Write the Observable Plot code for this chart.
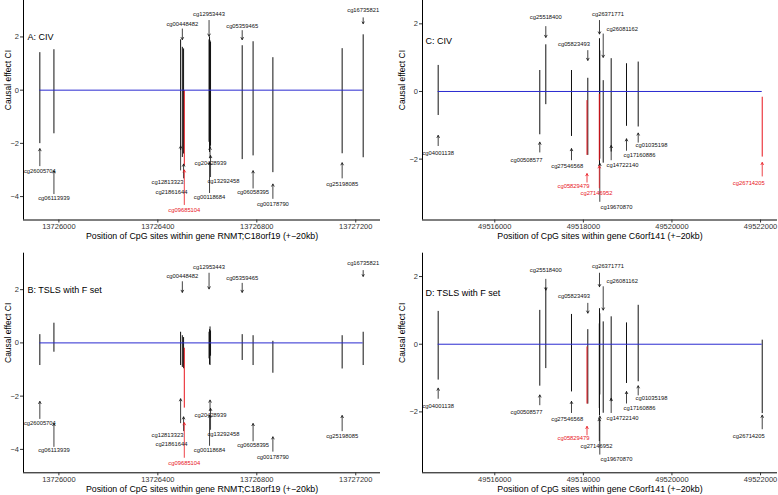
<!DOCTYPE html>
<html><head><meta charset="utf-8">
<script src="https://cdn.jsdelivr.net/npm/d3@7"></script>
<script src="https://cdn.jsdelivr.net/npm/@observablehq/plot@0.6"></script>
<style>
body{margin:0;background:#fff;}
#chart{position:relative;width:778px;height:495px;overflow:hidden;background:#fff;}
#chart svg{position:absolute;}
</style></head><body><div id="chart"></div>
<script>
// ---------- Gene RNMT;C18orf19 (panels A and B) ----------
const rnmtSites = ["cg26005704","cg06113939","cg12813323","cg00448482","cg21861644","cg09685104","cg12953443","cg00118684","cg20428939","cg13292458","cg05359465","cg06058395","cg00178790","cg25198085","cg16735821"];
const rnmtPos   = [13725923,13725980,13726492,13726499,13726504,13726507,13726607,13726609,13726611,13726613,13726741,13726785,13726865,13727145,13727230];
// CIV confidence intervals (panel A)
const rnmtCivLower = [-2.01,-1.64,-2.27,-2.53,-2.40,-2.85,-1.96,-2.34,-2.20,-2.10,-2.61,-2.47,-3.10,-2.39,-2.54];
const rnmtCivUpper = [ 1.41, 1.52, 1.89, 1.61, 1.55,-0.02, 1.89, 2.00, 1.85, 1.80, 1.67, 1.82, 1.22, 1.56, 2.08];
// TSLS with F set confidence intervals (panel B)
const rnmtTslsLower = [-0.85,-0.35,-0.85,-0.92,-0.97,-2.45,-0.60,-0.82,-0.85,-0.50,-0.66,-0.85,-1.14,-0.98,-0.85];
const rnmtTslsUpper = [ 0.31, 0.74, 0.40, 0.27, 0.20,-0.20, 0.40, 0.50, 0.60, 0.45, 0.31, 0.27, 0.06, 0.27, 0.40];
// annotation: label anchor and arrow (data units)
const rnmtLabelPos = [13725923,13725980,13726439,13726499,13726455,13726507,13726607,13726609,13726613,13726665,13726741,13726785,13726865,13727145,13727230];
const rnmtLabelY   = [-3.03,-4.04,-3.45, 2.50,-3.82,-4.50, 2.84,-4.03,-2.73,-3.43, 2.42,-3.83,-4.30,-3.52, 3.00];
const rnmtArrowFrom= [-2.84,-3.89,-3.00, 2.30,-3.30,-4.30, 2.62,-3.85,-2.55,-3.25, 2.24,-3.68,-4.07,-3.30, 2.72];
const rnmtArrowTo  = [-2.20,-3.03,-2.10, 1.90,-2.78,-3.00, 2.03,-2.72,-2.15,-2.46, 1.90,-3.03,-3.53,-2.73, 2.50];
const rnmtRedCiv  = ["cg09685104"];
const rnmtRedTsls = ["cg09685104"];
const rnmtTicks = [13726000,13726400,13726800,13727200];
const rnmtYTicks = [-4,-2,0,2];

// ---------- Gene C6orf141 (panels C and D) ----------
const c6Sites = ["cg04001138","cg00508577","cg25518400","cg27546568","cg05829479","cg05823493","cg27146952","cg26371771","cg19670870","cg26081162","cg14722140","cg17160886","cg01035198","cg26714205"];
const c6Pos   = [49514722,49517016,49517152,49517732,49518082,49518100,49518360,49518364,49518371,49518448,49518628,49518974,49519238,49522038];
const c6CivLower = [-0.71,-1.28,-0.39,-1.33,-1.89,-1.89,-2.05,-2.19,-2.00,-2.12,-1.79,-1.03,-1.05,-1.94];
const c6CivUpper = [ 0.77, 0.62, 1.38, 0.62,-0.27, 0.39,-0.08, 1.56, 1.20, 0.32, 0.97, 0.82, 0.87,-0.17];
const c6TslsLower = [-1.06,-1.24,-0.72,-1.41,-1.77,-1.77,-1.90,-2.12,-1.50,-2.04,-1.70,-1.16,-1.11,-2.05];
const c6TslsUpper = [ 0.97, 1.00, 1.67, 0.88,-0.08, 0.43, 0.60, 1.05, 0.90, 0.66, 0.81, 0.63, 1.15, 0.12];
const c6LabelPos = [49514722,49516716,49517152,49517635,49517777,49517788,49518296,49518556,49518748,49518877,49518883,49519267,49519538,49521735];
const c6LabelY   = [-1.82,-2.02, 2.20,-2.22,-2.79, 1.41,-3.00, 2.30,-3.41, 1.85,-2.19,-1.89,-1.60,-2.71];
const c6ArrowFrom= [-1.60,-1.79, 1.92,-2.02,-2.68, 1.21,-2.85, 2.10,-3.25, 1.70,-2.02,-1.74,-1.50,-2.50];
const c6ArrowTo  = [-1.30,-1.50, 1.60,-1.69,-2.43, 0.92,-2.20, 1.70,-2.13, 1.01,-1.60,-1.40,-1.23,-2.10];
const c6RedCiv  = ["cg05829479","cg27146952","cg26714205"];
const c6RedTsls = ["cg05829479"];
const c6Ticks = [49516000,49518000,49520000,49522000];
const c6YTicks = [-2,0,2];

const FONT = "'Liberation Sans', Arial, Helvetica, sans-serif";
const BLUE = "#2a2ad0", RED = "#e8141c", INK = "#111";
const yFmt = d => (d < 0 ? "\u2212" : "") + Math.abs(d);

function panel(o) {
  const rows = o.sites.map((s, i) => ({
    site: s, x: o.pos[i], lo: o.lower[i], hi: o.upper[i],
    lx: o.labelPos[i], ly: o.labelY[i], from: o.arrowFrom[i], to: o.arrowTo[i],
    red: o.red.includes(s)
  }));
  const black = rows.filter(d => !d.red), red = rows.filter(d => d.red);
  const svg = Plot.plot({
    width: o.width, height: o.height,
    marginLeft: o.ml, marginRight: o.mr, marginTop: o.mt, marginBottom: o.mb,
    style: {fontFamily: FONT, background: "transparent", overflow: "visible"},
    x: {domain: o.xDomain},
    y: {domain: o.yDomain},
    marks: [
      Plot.ruleX(black, {x: "x", y1: "lo", y2: "hi", stroke: INK, strokeWidth: 1}),
      Plot.ruleX(red, {x: "x", y1: "lo", y2: "hi", stroke: RED, strokeWidth: 1}),
      Plot.ruleY([0], {x1: d3.min(o.pos), x2: d3.max(o.pos), stroke: BLUE, strokeWidth: 1}),
      Plot.arrow(black, {x1: "x", x2: "x", y1: "from", y2: "to", stroke: INK, strokeWidth: 0.8, headLength: 4.5}),
      Plot.arrow(red, {x1: "x", x2: "x", y1: "from", y2: "to", stroke: RED, strokeWidth: 0.8, headLength: 4.5}),
      Plot.text(black, {x: "lx", y: "ly", text: "site", fill: INK, fontSize: 5.8}),
      Plot.text(red, {x: "lx", y: "ly", text: "site", fill: RED, fontSize: 5.8}),
      Plot.text([o.title], {x: o.titleX, y: o.titleY, textAnchor: "start", fontSize: 9, fill: "#000"}),
      Plot.ruleX([o.xDomain[0]], {stroke: "#000", strokeWidth: 1}),
      Plot.ruleY([o.yDomain[0]], {stroke: "#000", strokeWidth: 1}),
      Plot.axisX({ticks: o.xTicks, tickFormat: d3.format("d"), tickSize: 3, tickPadding: 1, fontSize: 7.5, color: "#333", label: null}),
      Plot.axisY({ticks: o.yTicks, tickFormat: yFmt, tickSize: 3, tickPadding: 1.5, fontSize: 7.5, color: "#333", label: null}),
      Plot.text([o.xLabel], {frameAnchor: "bottom", dy: 19, fontSize: 8.8, fill: "#000"}),
      Plot.text(["Causal effect CI"], {frameAnchor: "left", dx: o.yLabelDx, rotate: -90, fontSize: 8.5, fill: "#000"})
    ]
  });
  svg.style.left = o.left + "px";
  svg.style.top = o.top + "px";
  document.getElementById("chart").appendChild(svg);
}

const rnmtX = [13725857, 13727300];
const c6X = [49514368, 49522383];
const rnmtLabel = "Position of CpG sites within gene RNMT;C18orf19 (+\u221220kb)";
const c6Label = "Position of CpG sites within gene C6orf141 (+\u221220kb)";

panel({sites: rnmtSites, pos: rnmtPos, lower: rnmtCivLower, upper: rnmtCivUpper,
  labelPos: rnmtLabelPos, labelY: rnmtLabelY, arrowFrom: rnmtArrowFrom, arrowTo: rnmtArrowTo, red: rnmtRedCiv,
  xDomain: rnmtX, yDomain: [-4.88, 3.37], xTicks: rnmtTicks, yTicks: rnmtYTicks,
  title: "A: CIV", titleX: 13725873, titleY: 2, xLabel: rnmtLabel, yLabelDx: -15,
  left: 0, top: 0, width: 389, height: 248, ml: 23, mr: 9, mt: 0, mb: 28.5});
panel({sites: rnmtSites, pos: rnmtPos, lower: rnmtTslsLower, upper: rnmtTslsUpper,
  labelPos: rnmtLabelPos, labelY: rnmtLabelY, arrowFrom: rnmtArrowFrom, arrowTo: rnmtArrowTo, red: rnmtRedTsls,
  xDomain: rnmtX, yDomain: [-4.88, 3.37], xTicks: rnmtTicks, yTicks: rnmtYTicks,
  title: "B: TSLS with F set", titleX: 13725873, titleY: 2, xLabel: rnmtLabel, yLabelDx: -15,
  left: 0, top: 248, width: 389, height: 247, ml: 23, mr: 9, mt: 4.7, mb: 22.7});
panel({sites: c6Sites, pos: c6Pos, lower: c6CivLower, upper: c6CivUpper,
  labelPos: c6LabelPos, labelY: c6LabelY, arrowFrom: c6ArrowFrom, arrowTo: c6ArrowTo, red: c6RedCiv,
  xDomain: c6X, yDomain: [-3.8, 2.69], xTicks: c6Ticks, yTicks: c6YTicks,
  title: "C: CIV", titleX: 49514435, titleY: 1.5, xLabel: c6Label, yLabelDx: -20,
  left: 389, top: 0, width: 389, height: 248, ml: 33, mr: 1, mt: 0, mb: 28.5});
panel({sites: c6Sites, pos: c6Pos, lower: c6TslsLower, upper: c6TslsUpper,
  labelPos: c6LabelPos, labelY: c6LabelY, arrowFrom: c6ArrowFrom, arrowTo: c6ArrowTo, red: c6RedTsls,
  xDomain: c6X, yDomain: [-3.8, 2.69], xTicks: c6Ticks, yTicks: c6YTicks,
  title: "D: TSLS with F set", titleX: 49514435, titleY: 1.5, xLabel: c6Label, yLabelDx: -20,
  left: 389, top: 248, width: 389, height: 247, ml: 33, mr: 1, mt: 4.7, mb: 22.7});
</script></body></html>
